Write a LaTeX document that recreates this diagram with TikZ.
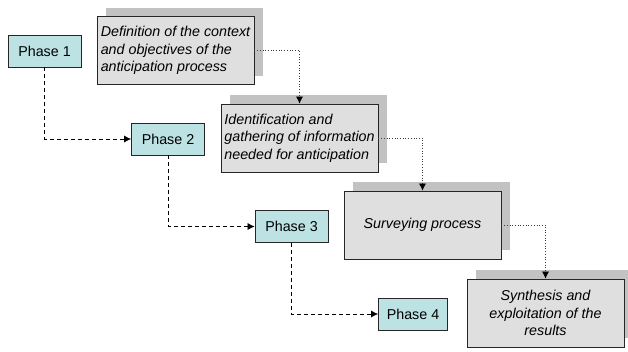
\documentclass[tikz,border=0pt]{standalone}
\usepackage{fontspec}
\setmainfont{Liberation Sans}
\usepackage{xcolor}
\usepackage{tikz}
\usetikzlibrary{positioning,shadows,arrows.meta}
\definecolor{phasecyan}{HTML}{BCE2E4}
\definecolor{taskgray}{HTML}{DFDFDF}
\definecolor{shadegray}{HTML}{C2C2C2}

\begin{document}
\begin{tikzpicture}[x=1pt,y=-1pt,
    phasebox/.style={draw=black!85,fill=phasecyan,line width=0.8pt,
      minimum width=73pt,minimum height=32pt,inner sep=0pt,
      font=\fontsize{14.3}{17}\selectfont},
    taskbox/.style={draw=black!85,fill=taskgray,line width=0.8pt,
      minimum width=157pt,minimum height=68pt,inner sep=2pt,
      font=\fontsize{14.3}{17.5}\selectfont\itshape,
      general shadow={fill=shadegray,draw=none,shadow xshift=9pt,shadow yshift=9pt}},
    phaselink/.style={dashed,dash pattern=on 4pt off 3pt,line width=0.7pt,
      -{Latex[length=7pt,width=7pt]}},
    tasklink/.style={dotted,line width=0.7pt,draw=black!75,
      -{Latex[length=7pt,width=7pt,color=black]}}]
    \useasboundingbox (0,0) rectangle (628,351);
    % Phases
    \node[phasebox] (ph1) at (44.5,51) {Phase 1};
    \node[phasebox] (ph2) at (168,139) {Phase 2};
    \node[phasebox] (ph3) at (291.5,226.5) {Phase 3};
    \node[phasebox,minimum width=69pt] (ph4) at (413,314) {Phase 4};
    % Tasks
    \node[taskbox,align=left] (def) at (175.5,50.5)
      {Definition of the context\\and objectives of the\\anticipation process};
    \node[taskbox,align=left] (info) at (299.5,138)
      {Identification and\\gathering of information\\needed for anticipation};
    \node[taskbox,align=center] (survey) at (422.5,225) {Surveying process};
    \node[taskbox,align=center] (synth) at (545.5,313)
      {Synthesis and\\exploitation of the\\results};
    % Links between phases
    \draw[phaselink] (ph1.south) |- (ph2.west);
    \draw[phaselink] (ph2.south) |- (ph3.west);
    \draw[phaselink] (ph3.south) |- (ph4.west);
    % Links between tasks
    \draw[tasklink] (def.east) -| (info.north);
    \draw[tasklink] (info.east) -| (survey.north);
    \draw[tasklink] (survey.east) -| (synth.north);
  \end{tikzpicture}
\end{document}
